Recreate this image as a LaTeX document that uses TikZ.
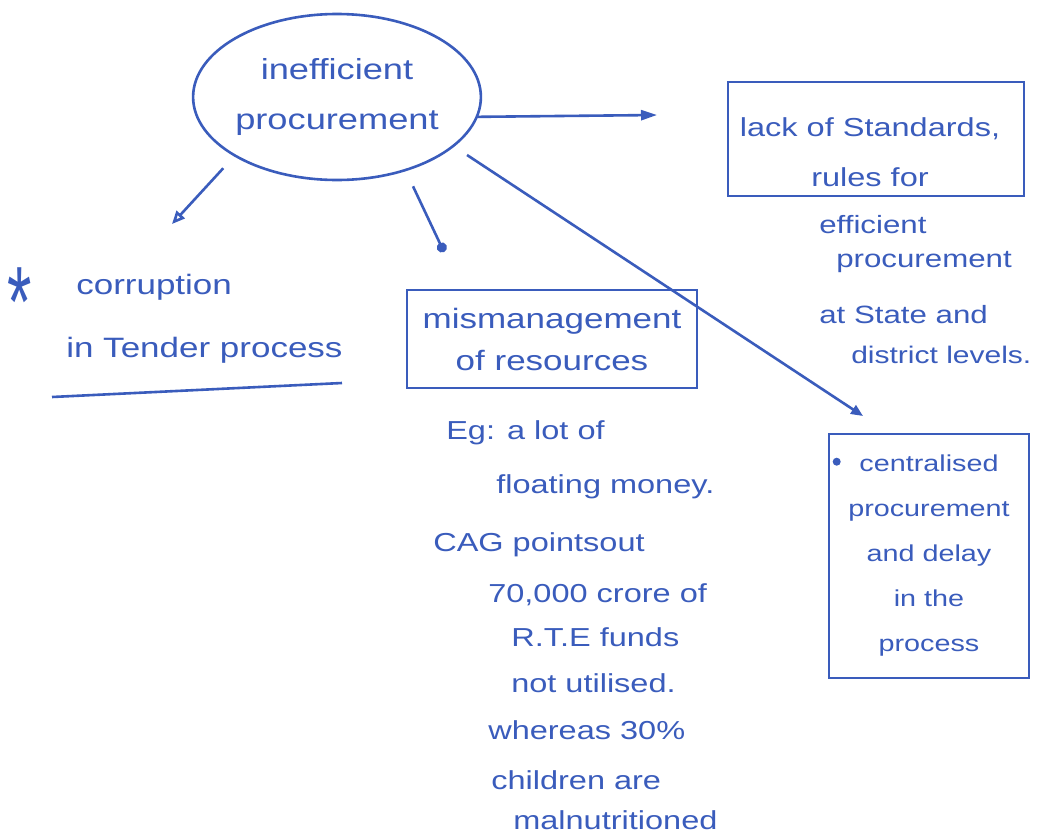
\documentclass[tikz,border=0pt]{standalone}
\usepackage{fontspec}
\usetikzlibrary{arrows.meta,shapes.geometric}
\newfontfamily\handfont{Liberation Sans}[FakeStretch=1.25]
\definecolor{ink}{RGB}{58,92,188}
\begin{document}
\begin{tikzpicture}[x=1pt,y=-1pt,
  line width=2.6pt, color=ink,
  hand/.style 2 args={font=\handfont\fontsize{#1}{#2}\selectfont},
  txt/.style={inner sep=0pt, anchor=west},
  frame/.style={draw, rectangle, inner sep=0pt},
  tipfill/.style={-{Triangle[length=16pt,width=10pt]}},
  tipopen/.style={-{Triangle[open,length=13pt,width=11pt]}},
  tipdot/.style={-{Circle[length=10pt]}},
  tipsmall/.style={-{Triangle[length=12pt,width=10pt]}}]

\fill[white] (0,0) rectangle (1043,838);
\useasboundingbox (0,0) rectangle (1043,838);

% central idea
\node[ellipse, draw, inner sep=0pt, minimum width=280pt, minimum height=166pt,
      hand={29}{50}, align=center] (ip) at (337,97) {inefficient\\procurement};

% free ends of the arrows
\coordinate (tipR) at (657,115);
\coordinate (tipL) at (172,224);
\coordinate (tipM) at (444,252);
\coordinate (tipC) at (863,416);

% lack of standards
\node[frame, minimum width=296pt, minimum height=114pt] (lack) at (876,139) {};
\node[hand={26}{50}, align=center, inner sep=0pt] (lacktxt) at (870,152)
  {lack of Standards,\\rules for};
\node[txt, hand={25}{30}] (l1) at (818,225) {efficient};
\node[txt, hand={25}{30}] (l2) at (835,262) {procurement};
\node[txt, hand={25}{30}] (l3) at (818,315) {at State and};
\node[txt, hand={24}{30}] (l4) at (850,355) {district levels.};

% corruption
\node[inner sep=0pt, anchor=north, font=\handfont\fontsize{100}{100}\selectfont]
  (star) at (20,266) {\scalebox{0.5}[1]{*}};
\node[txt, hand={28}{32}] (c1) at (75,287) {corruption};
\node[txt, hand={28}{32}] (c2) at (65,350) {in Tender process};
\coordinate (u1) at (52,397);
\coordinate (u2) at (342,383);
\draw (u1) -- (u2);

% mismanagement
\node[frame, minimum width=290pt, minimum height=98pt, hand={28}{42}, align=center]
  (mis) at (552,339) {mismanagement\\of resources};
\node[txt, hand={26}{30}] (e1) at (445,433) {Eg:\hspace{12pt}a lot of};
\node[txt, hand={26}{30}] (e2) at (495,487) {floating money.};
\node[txt, hand={26}{30}] (e3) at (432,545) {CAG pointsout};
\node[txt, hand={26}{30}] (e4) at (487,595) {70,000 crore of};
\node[txt, hand={26}{30}] (e5) at (510,637) {R.T.E funds};
\node[txt, hand={26}{30}] (e6) at (510,683) {not utilised.};
\node[txt, hand={26}{30}] (e7) at (487,730) {whereas 30\%};
\node[txt, hand={26}{30}] (e8) at (490,780) {children are};
\node[txt, hand={26}{30}] (e9) at (512,820) {malnutritioned};

% centralised procurement
\node[frame, minimum width=200pt, minimum height=244pt, hand={23}{45}, align=center]
  (cent) at (929,556) {centralised\\procurement\\and delay\\in the\\process};
\fill ([xshift=9pt,yshift=-29pt]cent.north west) circle (4pt);

% connectors
\draw[tipfill] (ip.-8) -- (tipR);
\draw[tipopen, shorten <=16pt] (ip.-150) -- (tipL);
\draw[tipdot] ([xshift=76pt,yshift=-5pt]ip.south) -- (tipM);
\draw[tipsmall] ([xshift=130pt,yshift=-58pt]ip.center) -- (tipC);

\end{tikzpicture}
\end{document}
